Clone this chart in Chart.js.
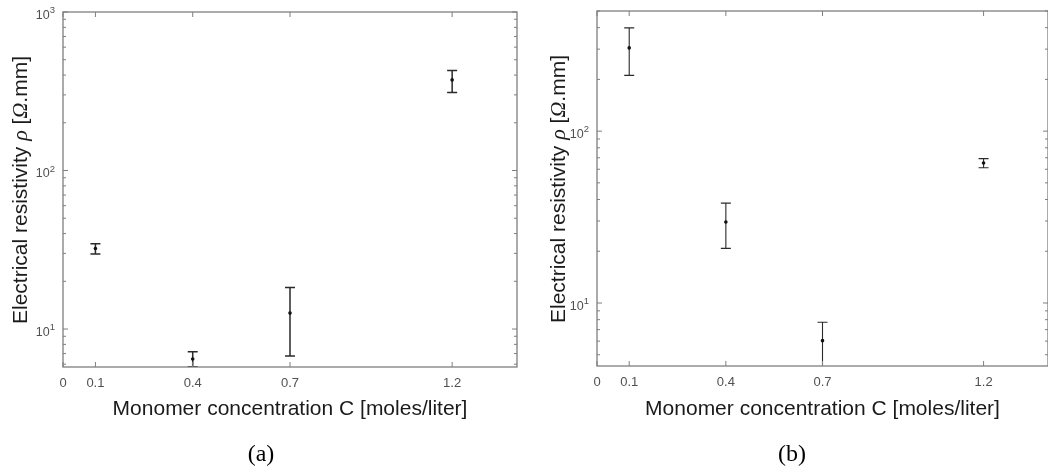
<!DOCTYPE html>
<html>
<head>
<meta charset="utf-8">
<script src="https://cdn.jsdelivr.net/npm/chart.js@4.4.1/dist/chart.umd.min.js"></script>
<style>
    html, body { margin: 0; padding: 0; background: #fff; overflow: hidden; }
    #page { position: relative; width: 1048px; height: 471px; overflow: hidden; }
    canvas { position: absolute; top: 0; }
    #chartA { left: 0; }
    #chartB { left: 524px; }
    .ytitle {
        position: absolute; white-space: nowrap; color: #1a1a1a;
        font-family: "Liberation Sans", Arial, sans-serif; font-size: 21px;
        transform: translate(-50%, -50%) rotate(-90deg);
    }
    .ytitle i { font-family: "Liberation Serif", "Times New Roman", serif; font-size: 22px; }
    .caption {
        position: absolute; color: #000;
        font-family: "Liberation Serif", "Times New Roman", serif; font-size: 24px;
        transform: translate(-50%, -50%);
    }
</style>
</head>
<body>
<div id="page">
    <canvas id="chartA" width="524" height="471"></canvas>
    <canvas id="chartB" width="540" height="471"></canvas>
    <div class="ytitle" style="left:20px; top:190px;">Electrical resistivity <i>&rho;</i> [<i>&Omega;</i>.mm]</div>
    <div class="ytitle" style="left:558px; top:189px;">Electrical resistivity <i>&rho;</i> [<i>&Omega;</i>.mm]</div>
    <div class="caption" style="left:261px; top:453px;">(a)</div>
    <div class="caption" style="left:792px; top:453px;">(b)</div>
</div>
<script>
// x axis
var xTicks = [0, 0.1, 0.4, 0.7, 1.2];
var xTickLabels = ['0', '0.1', '0.4', '0.7', '1.2'];

// panel (a)
var concA = [0.1, 0.4, 0.7, 1.2];
var rhoA = [32.2, 6.47, 12.6, 373];
var rhoLowA = [29.7, 5.78, 6.76, 311];
var rhoHighA = [34.5, 7.19, 18.3, 427];
var yDecadesA = [10, 100, 1000];
var yExponentsA = ['1', '2', '3'];

// panel (b)
var concB = [0.1, 0.4, 0.7, 1.2];
var rhoB = [305, 29.6, 6.04, 65.2];
var rhoLowB = [211, 20.8, 4.0, 61.2];
var rhoHighB = [399, 38.1, 7.72, 69.2];
var yDecadesB = [10, 100];
var yExponentsB = ['1', '2'];

var SANS = '"Liberation Sans", Arial, sans-serif';
var TICK_COLOR = '#505050';

// vertical error bars with caps, clipped to the axes box
var errorBarPlugin = {
    id: 'errorBars',
    beforeDatasetsDraw: function (chart, args, opts) {
        var ctx = chart.ctx, xs = chart.scales.x, ys = chart.scales.y, a = chart.chartArea;
        ctx.save();
        ctx.beginPath();
        ctx.rect(a.left, a.top - 2, a.right - a.left, a.bottom - a.top + 2);
        ctx.clip();
        ctx.strokeStyle = opts.color;
        ctx.lineWidth = opts.width;
        ctx.beginPath();
        for (var i = 0; i < opts.x.length; i++) {
            var px = xs.getPixelForValue(opts.x[i]);
            var yl = ys.getPixelForValue(opts.low[i]);
            var yh = ys.getPixelForValue(opts.high[i]);
            ctx.moveTo(px, yl); ctx.lineTo(px, yh);
            ctx.moveTo(px - opts.cap, yh); ctx.lineTo(px + opts.cap, yh);
            ctx.moveTo(px - opts.cap, yl); ctx.lineTo(px + opts.cap, yl);
        }
        ctx.stroke();
        ctx.restore();
    }
};

// matlab style box, inward ticks on all four sides, 10^n labels
var axisBoxPlugin = {
    id: 'axisBox',
    afterDraw: function (chart, args, opts) {
        var ctx = chart.ctx, xs = chart.scales.x, ys = chart.scales.y, a = chart.chartArea;
        ctx.save();
        ctx.strokeStyle = opts.color;
        ctx.lineWidth = 1;
        ctx.beginPath();
        ys.ticks.forEach(function (t) {
            var py = ys.getPixelForValue(t.value);
            var len = isDecade(t.value) ? 5 : 3;
            ctx.moveTo(a.left, py); ctx.lineTo(a.left + len, py);
            ctx.moveTo(a.right, py); ctx.lineTo(a.right - len, py);
        });
        xs.ticks.forEach(function (t) {
            var px = xs.getPixelForValue(t.value);
            ctx.moveTo(px, a.bottom); ctx.lineTo(px, a.bottom - 5);
            ctx.moveTo(px, a.top); ctx.lineTo(px, a.top + 5);
        });
        ctx.stroke();
        ctx.lineWidth = 1.3;
        ctx.strokeRect(a.left, a.top, a.right - a.left, a.bottom - a.top);

        // decade labels: "10" with a raised exponent
        ctx.fillStyle = TICK_COLOR;
        ctx.textBaseline = 'alphabetic';
        ctx.textAlign = 'left';
        for (var i = 0; i < opts.decades.length; i++) {
            var py = ys.getPixelForValue(opts.decades[i]);
            ctx.font = '9.5px ' + SANS;
            var ew = ctx.measureText(opts.exponents[i]).width;
            ctx.font = '12.5px ' + SANS;
            var bw = ctx.measureText('10').width;
            var xr = a.left - 8;
            ctx.fillText('10', xr - ew - bw, py + 6.5);
            ctx.font = '9.5px ' + SANS;
            ctx.fillText(opts.exponents[i], xr - ew, py + 1);
        }
        ctx.restore();
    }
};

function isDecade(v) {
    var l = Math.log10(v);
    return Math.abs(l - Math.round(l)) < 1e-9;
}

function logTicks(min, max) {
    var ticks = [];
    for (var d = 1; d <= 1000; d *= 10) {
        for (var m = 1; m <= 9; m++) {
            var v = m * d;
            if (v >= min && v <= max) ticks.push({value: v});
        }
    }
    return ticks;
}

function makeChart(id, cfg) {
    return new Chart(document.getElementById(id), {
        type: 'scatter',
        data: {
            datasets: [{
                data: cfg.x.map(function (v, i) { return {x: v, y: cfg.y[i]}; }),
                pointRadius: 1.8,
                pointBackgroundColor: '#111',
                pointBorderWidth: 0
            }]
        },
        options: {
            responsive: false,
            animation: false,
            devicePixelRatio: 1,
            layout: { padding: { left: 0, top: cfg.top, right: cfg.right, bottom: 0 } },
            plugins: {
                legend: { display: false },
                tooltip: { enabled: false },
                errorBars: { x: cfg.x, low: cfg.low, high: cfg.high, color: '#2a2a2a', width: cfg.barWidth, cap: 5 },
                axisBox: { color: '#7f7f7f', decades: cfg.decades, exponents: cfg.exponents }
            },
            scales: {
                x: {
                    type: 'linear',
                    min: 0,
                    max: 1.4,
                    afterBuildTicks: function (scale) {
                        scale.ticks = xTicks.map(function (v) { return {value: v}; });
                    },
                    afterFit: function (scale) { scale.height = cfg.xHeight; },
                    grid: { display: false, drawTicks: false },
                    border: { display: false },
                    ticks: {
                        autoSkip: false,
                        maxRotation: 0,
                        padding: 9,
                        color: TICK_COLOR,
                        font: { family: SANS, size: 13 },
                        callback: function (v, i) { return xTickLabels[i]; }
                    },
                    title: {
                        display: true,
                        text: 'Monomer concentration C [moles/liter]',
                        color: '#1a1a1a',
                        font: { family: SANS, size: 21 },
                        padding: { top: 0, bottom: 49 }
                    }
                },
                y: {
                    type: 'logarithmic',
                    min: cfg.yMin,
                    max: cfg.yMax,
                    afterBuildTicks: function (scale) {
                        scale.ticks = logTicks(cfg.yMin, cfg.yMax);
                    },
                    afterFit: function (scale) { scale.width = cfg.yWidth; },
                    grid: { display: false, drawTicks: false },
                    border: { display: false },
                    // labels for the decades are drawn by axisBoxPlugin
                    ticks: { autoSkip: false, display: false }
                }
            }
        },
        plugins: [errorBarPlugin, axisBoxPlugin]
    });
}

makeChart('chartA', {
    x: concA, y: rhoA, low: rhoLowA, high: rhoHighA,
    yMin: 5.76, yMax: 1000, decades: yDecadesA, exponents: yExponentsA,
    top: 12, right: 7, yWidth: 63, xHeight: 104, barWidth: 1.5
});

makeChart('chartB', {
    x: concB, y: rhoB, low: rhoLowB, high: rhoHighB,
    yMin: 4.3, yMax: 500, decades: yDecadesB, exponents: yExponentsB,
    top: 11, right: 16, yWidth: 73, xHeight: 105, barWidth: 1.1
});
</script>
</body>
</html>
